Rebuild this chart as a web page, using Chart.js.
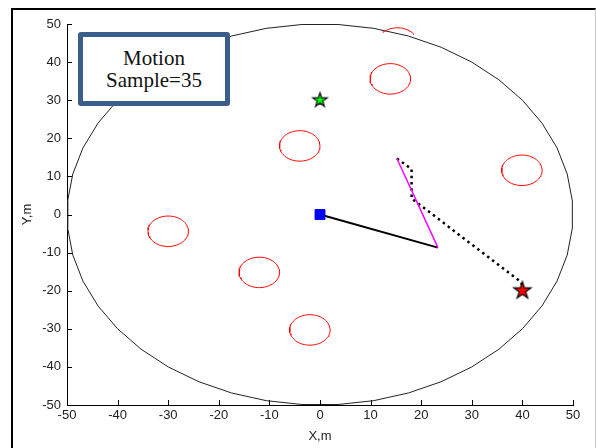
<!DOCTYPE html>
<html>
<head>
<meta charset="utf-8">
<script src="https://cdn.jsdelivr.net/npm/chart.js@4.4.0/dist/chart.umd.min.js"></script>
<style>
  html, body { margin: 0; padding: 0; background: #fff; }
  #wrap { position: relative; width: 596px; height: 448px; overflow: hidden; }
  #frame {
    position: absolute; left: 11px; top: 8px; width: 582px; height: 450px;
    border-left: 2px solid #000; border-top: 2px solid #000; border-right: 1px solid #c8c8c8;
    pointer-events: none;
  }
  #note {
    position: absolute; left: 78px; top: 32px; width: 142px; height: 64px;
    border: 5px solid #3b5d8a; border-radius: 3px; background: #fff;
    font: 21px "Liberation Serif", "Times New Roman", serif; line-height: 22px;
    color: #111; text-align: center;
    display: flex; flex-direction: column; justify-content: center;
  }
</style>
</head>
<body>
<div id="wrap">
  <canvas id="chart" width="596" height="448"></canvas>
  <div id="frame"></div>
  <div id="note"><div>Motion</div><div>Sample=35</div></div>
</div>
<script>
// Axis ticks
const xTicks = [-50, -40, -30, -20, -10, 0, 10, 20, 30, 40, 50];
const yTicks = [-50, -40, -30, -20, -10, 0, 10, 20, 30, 40, 50];

// Arena boundary (polygonal circle)
const arenaRadius = 50;
const arenaSides = 44;

// Obstacles (red circles)
const obstacleX = [13.9, -4, 39.9, -30, -12, -2];
const obstacleY = [35.6, 18, 11.6, -4.4, -15.2, -30.3];
const obstacleR = 4;
// obstacle at the arena edge, only its upper arc is visible
const edgeObstacle = [15.3, 45];
const edgeArcDeg = [35, 135];

// Robot, start, goal
const robot = [0, 0];
const startPt = [0, 30];
const goalPt = [40, -20];

// Planned path (dotted)
const pathX = [15.2, 18.1, 18.1, 39.8, 40];
const pathY = [14.7, 11.9, 4.2, -17.8, -19.5];

// Heading line and lookahead segment
const headX = [0, 23.3];
const headY = [0, -8.7];
const lookX = [23.3, 15.2];
const lookY = [-8.7, 14.7];

function ring(cx, cy, r, n, a0, a1, offset) {
    const pts = [];
    for (let i = 0; i <= n; i++) {
        const a = (a0 + (a1 - a0) * (i + offset) / n) * Math.PI / 180;
        pts.push({ x: cx + r * Math.cos(a), y: cy + r * Math.sin(a) });
    }
    return pts;
}

function pentagram(R, fill) {
    const s = Math.ceil(R * 2 + 4);
    const c = document.createElement('canvas');
    c.width = c.height = s;
    const g = c.getContext('2d');
    g.beginPath();
    for (let i = 0; i < 10; i++) {
        const r = i % 2 === 0 ? R : R * 0.382;
        const a = -Math.PI / 2 + i * Math.PI / 5;
        const px = s / 2 + r * Math.cos(a), py = s / 2 + r * Math.sin(a);
        if (i === 0) g.moveTo(px, py); else g.lineTo(px, py);
    }
    g.closePath();
    g.fillStyle = fill;
    g.fill();
    g.strokeStyle = '#000';
    g.lineWidth = 1.2;
    g.stroke();
    return c;
}

const pairs = (xs, ys) => xs.map((v, i) => ({ x: v, y: ys[i] }));
const lineSet = (data, color, width, extra) => Object.assign({
    data, showLine: true, borderColor: color, borderWidth: width,
    pointRadius: 0, fill: false, tension: 0, borderJoinStyle: 'round'
}, extra || {});

const datasets = [
    { data: [{ x: goalPt[0], y: goalPt[1] }], pointStyle: pentagram(9, '#ff0000'), pointRadius: 9 },
    { data: [{ x: startPt[0], y: startPt[1] }], pointStyle: pentagram(7.5, '#00ff00'), pointRadius: 7 },
    { data: [{ x: robot[0], y: robot[1] }], pointStyle: 'rect', pointRadius: 7,
      backgroundColor: '#0000ff', borderColor: '#0000ff', borderWidth: 1 },
    lineSet(pairs(lookX, lookY), '#ff00ff', 1.5),
    lineSet(pairs(headX, headY), '#000000', 2),
    lineSet(pairs(pathX, pathY), '#000000', 2.5, { borderDash: [2.5, 3.7], borderCapStyle: 'butt' }),
    lineSet(ring(edgeObstacle[0], edgeObstacle[1], obstacleR, 30, edgeArcDeg[0], edgeArcDeg[1], 0), '#ff0000', 1)
];
obstacleX.forEach((cx, i) => {
    datasets.push(lineSet(ring(cx, obstacleY[i], obstacleR, 72, 90, 450, 0), '#ff0000', 1));
});
datasets.push(lineSet(ring(0, 0, arenaRadius, arenaSides, 0, 360, 0.5), '#222222', 1));

// MATLAB style ticks pointing into the plot
const innerTicks = {
    id: 'innerTicks',
    afterDraw(chart) {
        const { ctx, chartArea: a, scales: { x, y } } = chart;
        ctx.save();
        ctx.strokeStyle = '#000';
        ctx.lineWidth = 1;
        ctx.beginPath();
        xTicks.forEach(v => {
            const px = Math.round(x.getPixelForValue(v)) + 0.5;
            ctx.moveTo(px, a.bottom);
            ctx.lineTo(px, a.bottom - 5);
        });
        yTicks.forEach(v => {
            const py = Math.round(y.getPixelForValue(v)) + 0.5;
            ctx.moveTo(a.left, py);
            ctx.lineTo(a.left + 5, py);
        });
        ctx.stroke();
        ctx.restore();
    }
};

const tickFont = { family: '"Liberation Sans", Arial, sans-serif', size: 13 };

new Chart(document.getElementById('chart').getContext('2d'), {
    type: 'scatter',
    data: { datasets },
    options: {
        responsive: false,
        animation: false,
        layout: { padding: { top: 24, right: 23, left: 0, bottom: 0 } },
        plugins: { legend: { display: false }, tooltip: { enabled: false } },
        scales: {
            x: {
                type: 'linear', min: -50, max: 50,
                afterBuildTicks: s => { s.ticks = xTicks.map(v => ({ value: v })); },
                afterFit: s => { s.height = 43; },
                grid: { display: false, drawTicks: false },
                border: { display: true, color: '#000', width: 1 },
                ticks: { padding: 3, color: '#222', font: tickFont, maxRotation: 0, autoSkip: false },
                title: { display: true, text: 'X,m', color: '#222', font: tickFont, padding: { top: 0, bottom: 4 } }
            },
            y: {
                type: 'linear', min: -50, max: 50,
                afterBuildTicks: s => { s.ticks = yTicks.map(v => ({ value: v })); },
                afterFit: s => { s.width = 67; },
                grid: { display: false, drawTicks: false },
                border: { display: true, color: '#000', width: 1 },
                ticks: { padding: 6, color: '#222', font: tickFont, autoSkip: false },
                title: { display: true, text: 'Y,m', color: '#222', font: tickFont, padding: { top: 20, bottom: 0 } }
            }
        }
    },
    plugins: [innerTicks]
});
</script>
</body>
</html>
